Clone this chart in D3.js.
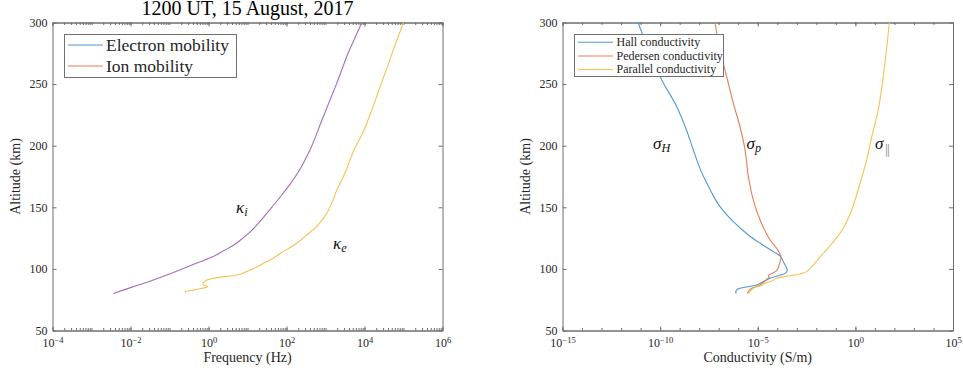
<!DOCTYPE html>
<html>
<head>
<meta charset="utf-8">
<script src="https://cdn.jsdelivr.net/npm/d3@7/dist/d3.min.js"></script>
<style>
  html, body { margin: 0; padding: 0; background: #fff; }
  svg { display: block; }
  svg text { font-family: "Liberation Serif", "DejaVu Serif", serif !important; }
  svg text.sym { font-family: "DejaVu Sans", sans-serif !important; }
  .axis .domain, .axis .tick line { stroke: #6e6e6e; stroke-width: 1; }
  .axis text { fill: #262626; }
</style>
</head>
<body>
<svg id="chart" width="963" height="372"></svg>
<script>
// ---------------- data ----------------
const titleText = "1200 UT, 15 August, 2017";
const altitudeTicks = [50, 100, 150, 200, 250, 300];
const freqTickExps = [-4, -2, 0, 2, 4, 6];
const condTickExps = [-15, -10, -5, 0, 5];

// Ion curve (kappa_i): altitude (km) vs frequency (Hz)
const kiAlt  = [80, 85, 90, 95, 100, 105, 110, 115, 120, 125, 130, 140, 150, 160, 170, 180, 190, 200, 220, 237, 250, 260, 272, 285, 300];
const kiFreq = [3.63e-3, 1.05e-2, 3.16e-2, 8.51e-2, 0.209, 0.525, 1.32, 2.51, 4.79, 7.59, 11.7, 22.9, 41.7, 75.9, 132, 214, 316, 447, 794, 1300, 1905, 2512, 3467, 5248, 8511];

// Electron curve (kappa_e)
const keAlt  = [80, 81.5, 83, 85.6, 86.5, 87.5, 89, 91, 92.5, 93.5, 94.5, 96, 97.8, 101, 104.5, 108, 112.7, 120.8, 127, 134.3, 140, 145, 155, 164, 175, 186, 196.5, 210, 230, 248, 265, 278, 290, 300];
const keFreq = [0.263, 0.258, 0.447, 0.955, 0.794, 0.724, 0.759, 0.912, 1.41, 2.24, 4.37, 7.08, 9.55, 15.8, 25.7, 41.7, 70.8, 182, 316, 589, 832, 1072, 1514, 1950, 2884, 3981, 5370, 8913, 15849, 25119, 39811, 54954, 75858, 100000];

// Conductivities (S/m)
const hallAlt  = [80, 81.2, 83, 84.3, 87, 92.4, 96.4, 98.5, 100.5, 105.9, 110, 114, 120.8, 127.5, 138.3, 150.5, 160, 170, 180, 196.5, 212.7, 231.7, 256, 300];
const hallCond = [7.94e-7, 7.41e-7, 8.32e-7, 1.23e-6, 8.71e-6, 4.27e-5, 2.51e-4, 3.24e-4, 3.02e-4, 2.04e-4, 1.51e-4, 6.31e-5, 1.32e-5, 3.31e-6, 5.62e-7, 1.17e-7, 5.01e-8, 2.40e-8, 1.20e-8, 5.01e-9, 2.24e-9, 7.08e-10, 1.0e-10, 7.41e-12];

const pedAlt  = [80, 83.4, 87, 92, 93, 94.5, 95.9, 98.5, 103.2, 110, 116.7, 123.5, 139.7, 156, 175, 196.5, 215.4, 234.4, 256, 277.7, 300];
const pedCond = [2.95e-6, 3.98e-6, 1.32e-5, 3.16e-5, 3.8e-5, 3.55e-5, 4.57e-5, 9.33e-5, 1.26e-4, 1.51e-4, 9.33e-5, 4.27e-5, 1.32e-5, 5.89e-6, 3.31e-6, 2.24e-6, 1.23e-6, 5.62e-7, 2.57e-7, 1.17e-7, 6.46e-8];

const parAlt  = [80, 84.3, 86.6, 88.3, 90, 92.4, 94, 95.9, 97.8, 103.2, 112.7, 122, 133, 147.8, 169.5, 188.4, 204.6, 229, 256, 300];
const parCond = [3.16e-6, 5.89e-6, 1.58e-5, 2.24e-5, 5.01e-5, 9.33e-5, 3.02e-4, 1.45e-3, 3.24e-3, 7.08e-3, 2.29e-2, 7.41e-2, 0.24, 0.646, 1.74, 3.8, 6.31, 14.8, 26.9, 55];

const leftLegend  = ["Electron mobility", "Ion mobility"];
const rightLegend = ["Hall conductivity", "Pedersen conductivity", "Parallel conductivity"];

// ---------------- style ----------------
const C = { blue: "#4a9ad6", orange: "#e57d55", yellow: "#f3c352", purple: "#a76cbb" };

const svg = d3.select("#chart");
svg.append("rect").attr("width", 963).attr("height", 372).attr("fill", "#fff");

function panel(box, xDomain, majorExps, minorVals, xLabel) {
  const x = d3.scaleLog().domain(xDomain).range([box.x0, box.x1]);
  const y = d3.scaleLinear().domain([50, 300]).range([box.y1, box.y0]);
  const g = svg.append("g");

  g.append("g").attr("class", "axis").attr("transform", `translate(0,${box.y1})`)
    .call(d3.axisBottom(x).tickValues(minorVals).tickSize(-2.5).tickSizeOuter(0).tickFormat(""));
  g.append("g").attr("class", "axis").attr("transform", `translate(0,${box.y0})`)
    .call(d3.axisTop(x).tickValues(minorVals).tickSize(-2.5).tickSizeOuter(0).tickFormat(""));
  const majors = majorExps.map(e => Math.pow(10, e));
  const bx = g.append("g").attr("class", "axis").attr("transform", `translate(0,${box.y1})`)
    .call(d3.axisBottom(x).tickValues(majors).tickSize(-4).tickSizeOuter(0).tickPadding(8));
  bx.selectAll(".tick text").each(function(d, i) {
    const t = d3.select(this).text("").attr("font-size", 12);
    t.append("tspan").text("10");
    const e = majorExps[i];
    t.append("tspan").attr("dy", "-0.45em").attr("font-size", 8.5).text(e < 0 ? "\u2212" + Math.abs(e) : String(e));
  });
  g.append("g").attr("class", "axis").attr("transform", `translate(0,${box.y0})`)
    .call(d3.axisTop(x).tickValues(majors).tickSize(-4).tickSizeOuter(0).tickFormat(""));

  const ly = g.append("g").attr("class", "axis").attr("transform", `translate(${box.x0},0)`)
    .call(d3.axisLeft(y).tickValues(altitudeTicks).tickSize(-4).tickSizeOuter(0).tickPadding(5));
  ly.selectAll(".tick text").attr("font-size", 12);
  g.append("g").attr("class", "axis").attr("transform", `translate(${box.x1},0)`)
    .call(d3.axisRight(y).tickValues(altitudeTicks).tickSize(-4).tickSizeOuter(0).tickFormat(""));

  g.append("text").attr("x", (box.x0 + box.x1) / 2).attr("y", 362).attr("text-anchor", "middle")
    .attr("font-size", 14).attr("fill", "#262626").text(xLabel);
  g.append("text").attr("transform", `translate(${box.x0 - 33},${(box.y0 + box.y1) / 2}) rotate(-90)`)
    .attr("text-anchor", "middle").attr("font-size", 14).attr("fill", "#262626").text("Altitude (km)");
  return { x, y, g };
}

function minorLog(lo, hi, all) {
  const v = [];
  for (let e = lo; e < hi; e++) {
    if (all) { for (let k = 1; k < 10; k++) v.push(k * Math.pow(10, e)); }
    else v.push(Math.pow(10, e));
  }
  v.push(Math.pow(10, hi));
  return v;
}

const L = panel({ x0: 52.5, x1: 442.5, y0: 22.5, y1: 330.5 }, [1e-4, 1e6], freqTickExps, minorLog(-4, 6, true), "Frequency (Hz)");
const R = panel({ x0: 562.5, x1: 953, y0: 22.5, y1: 330.5 }, [1e-15, 1e5], condTickExps, minorLog(-15, 5, false), "Conductivity (S/m)");

function curve(P, alts, vals, color) {
  const line = d3.line().x(i => P.x(vals[i])).y(i => P.y(alts[i])).curve(d3.curveCatmullRom.alpha(0.5));
  P.g.append("path").attr("d", line(d3.range(alts.length))).attr("fill", "none")
    .attr("stroke", color).attr("stroke-width", 1.1);
}
curve(L, kiAlt, kiFreq, C.purple);
curve(L, keAlt, keFreq, C.yellow);
curve(R, hallAlt, hallCond, C.blue);
curve(R, pedAlt, pedCond, C.orange);
curve(R, parAlt, parCond, C.yellow);

// title
svg.append("text").attr("x", 247.5).attr("y", 14.5).attr("text-anchor", "middle")
  .attr("font-size", 20).attr("fill", "#000").text(titleText);

// legends
function legend(labels, colors, fs, x0, y0, w, h, lineX0, lineX1, textX, rowY, baseOff) {
  const g = svg.append("g");
  g.append("rect").attr("x", x0).attr("y", y0).attr("width", w).attr("height", h)
    .attr("fill", "#fff").attr("stroke", "#707070").attr("stroke-width", 1);
  labels.forEach((lab, i) => {
    g.append("line").attr("x1", lineX0).attr("x2", lineX1).attr("y1", rowY[i]).attr("y2", rowY[i])
      .attr("stroke", colors[i]).attr("stroke-width", 1.1);
    g.append("text").attr("x", textX).attr("y", rowY[i] + baseOff).attr("font-size", fs)
      .attr("fill", "#262626").text(lab);
  });
}
legend(leftLegend, [C.blue, C.orange], 17.5, 64.5, 34.5, 172, 43, 68, 103, 106, [45, 66], 5.5);
legend(rightLegend, [C.blue, C.orange, C.yellow], 12, 574.5, 34.5, 149, 42, 578, 613, 616.5, [42.3, 56, 69.5], 3.8);

// annotations
function annot(x, y, sym, sub, fs) {
  const t = svg.append("text").attr("x", x).attr("y", y)
    .attr("font-size", fs).attr("fill", "#111").attr("font-style", "italic");
  t.append("tspan").text(sym);
  t.append("tspan").attr("dy", "0.25em").attr("font-size", fs * 0.72).text(sub);
}
annot(236, 213, "\u03BA", "i", 17);
annot(333, 249, "\u03BA", "e", 17);
annot(653, 149, "\u03C3", "H", 17);
annot(746.5, 149, "\u03C3", "p", 17);
svg.append("text").attr("x", 875).attr("y", 149).attr("font-size", 17).attr("fill", "#111")
  .attr("font-style", "italic").text("\u03C3");
svg.append("text").attr("class", "sym").attr("x", 884).attr("y", 154).attr("font-size", 13)
  .attr("fill", "#a8a8a8").text("\u2225");
</script>
</body>
</html>
